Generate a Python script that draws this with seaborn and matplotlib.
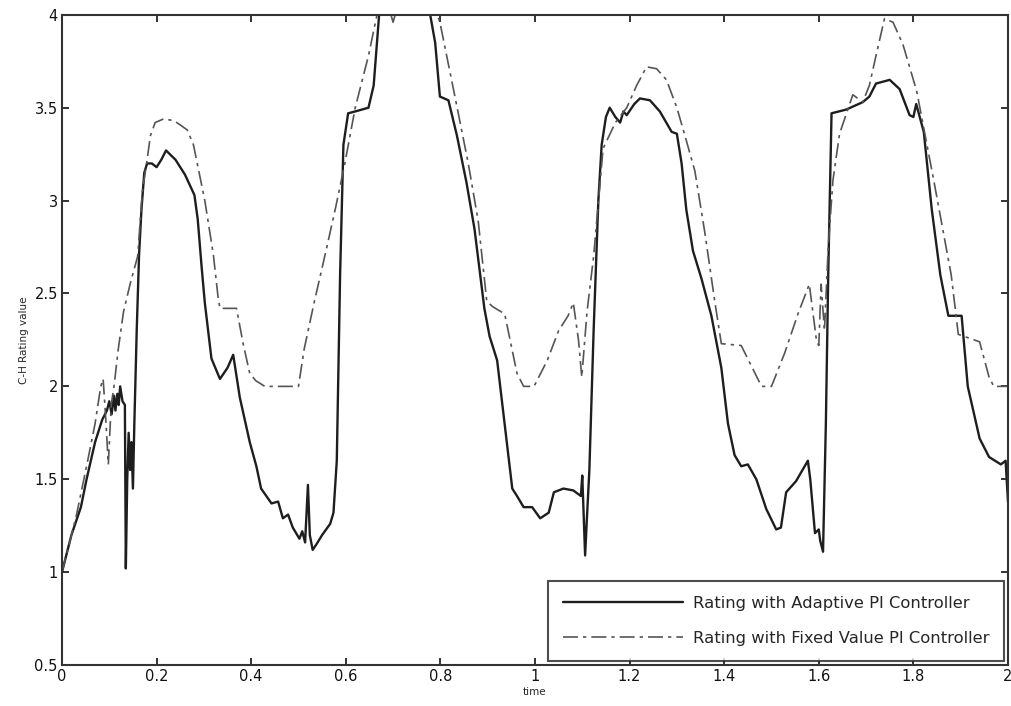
import numpy as np
import pandas as pd
import matplotlib
matplotlib.use("Agg")
import matplotlib.pyplot as plt
import seaborn as sns

# time / value pairs
t_adaptive = [0, 0.02, 0.04, 0.052, 0.07, 0.085, 0.095, 0.1, 0.105, 0.11,
              0.113, 0.117, 0.12, 0.123, 0.128, 0.133, 0.135, 0.138, 0.141, 0.144,
              0.147, 0.15, 0.153, 0.158, 0.163, 0.168, 0.174, 0.18, 0.19, 0.2,
              0.21, 0.22, 0.24, 0.26, 0.28, 0.287, 0.295, 0.302, 0.316, 0.334,
              0.35, 0.362, 0.376, 0.397, 0.411, 0.421, 0.432, 0.443, 0.457, 0.467,
              0.478, 0.488, 0.502, 0.508, 0.514, 0.52, 0.524, 0.53, 0.538, 0.55,
              0.567, 0.574, 0.581, 0.588, 0.595, 0.605, 0.62, 0.648, 0.659, 0.666,
              0.672, 0.7, 0.74, 0.775, 0.789, 0.799, 0.817, 0.835, 0.855, 0.872,
              0.893, 0.904, 0.92, 0.938, 0.952, 0.962, 0.976, 0.994, 1.011, 1.029,
              1.04, 1.06, 1.081, 1.097, 1.1, 1.103, 1.106, 1.11, 1.115, 1.124,
              1.134, 1.141, 1.15, 1.158, 1.17, 1.18, 1.187, 1.194, 1.21, 1.222,
              1.243, 1.264, 1.289, 1.3, 1.31, 1.32, 1.334, 1.352, 1.373, 1.394,
              1.408, 1.422, 1.436, 1.45, 1.468, 1.489, 1.51, 1.52, 1.531, 1.552,
              1.577, 1.582, 1.592, 1.6, 1.603, 1.609, 1.615, 1.62, 1.627, 1.658,
              1.693, 1.707, 1.721, 1.75, 1.771, 1.792, 1.8, 1.806, 1.822, 1.839,
              1.857, 1.874, 1.902, 1.915, 1.94, 1.96, 1.985, 1.995, 2.0]
v_adaptive = [1.0, 1.2, 1.35, 1.5, 1.7, 1.82, 1.87, 1.92, 1.85, 1.95,
              1.87, 1.96, 1.9, 2.0, 1.92, 1.9, 1.02, 1.5, 1.75, 1.55,
              1.7, 1.45, 1.8, 2.3, 2.71, 2.95, 3.15, 3.2, 3.2, 3.18,
              3.22, 3.27, 3.22, 3.14, 3.03, 2.9, 2.65, 2.45, 2.15, 2.04,
              2.1, 2.17, 1.94, 1.7, 1.57, 1.45, 1.41, 1.37, 1.38, 1.29,
              1.31, 1.24, 1.18, 1.22, 1.16, 1.47, 1.2, 1.12, 1.15, 1.2,
              1.26, 1.32, 1.6, 2.6, 3.3, 3.47, 3.48, 3.5, 3.62, 3.85,
              4.05, 4.25, 4.3, 4.05, 3.85, 3.56, 3.54, 3.35, 3.1, 2.85,
              2.42, 2.27, 2.14, 1.75, 1.45, 1.41, 1.35, 1.35, 1.29, 1.32,
              1.43, 1.45, 1.44, 1.41, 1.52, 1.3, 1.09, 1.3, 1.55, 2.3,
              3.0, 3.3, 3.45, 3.5, 3.45, 3.42, 3.48, 3.46, 3.52, 3.55,
              3.54, 3.48, 3.37, 3.36, 3.2, 2.95, 2.73, 2.58, 2.38, 2.1,
              1.8, 1.63, 1.57, 1.58, 1.5, 1.34, 1.23, 1.24, 1.43, 1.49,
              1.6, 1.5, 1.21, 1.23, 1.17, 1.11, 1.8, 2.6, 3.47, 3.49,
              3.53, 3.56, 3.63, 3.65, 3.6, 3.46, 3.45, 3.52, 3.37, 2.95,
              2.6, 2.38, 2.38, 2.0, 1.72, 1.62, 1.58, 1.6, 1.38]

t_fixed = [0, 0.03, 0.052, 0.07, 0.082, 0.087, 0.092, 0.098, 0.104, 0.11,
           0.119, 0.13, 0.144, 0.16, 0.17, 0.18, 0.187, 0.197, 0.215, 0.237,
           0.254, 0.265, 0.278, 0.302, 0.32, 0.33, 0.334, 0.369, 0.383, 0.397,
           0.41, 0.429, 0.5, 0.512, 0.533, 0.56, 0.58, 0.598, 0.62, 0.648,
           0.666, 0.69, 0.7, 0.71, 0.78, 0.799, 0.83, 0.859, 0.88, 0.898,
           0.91, 0.936, 0.962, 0.976, 0.998, 1.026, 1.05, 1.07, 1.081, 1.092,
           1.099, 1.11, 1.124, 1.144, 1.17, 1.194, 1.215, 1.236, 1.257, 1.278,
           1.3, 1.317, 1.338, 1.359, 1.38, 1.394, 1.436, 1.479, 1.5, 1.528,
           1.556, 1.58, 1.595, 1.6, 1.605, 1.612, 1.62, 1.63, 1.644, 1.672,
           1.693, 1.707, 1.721, 1.739, 1.757, 1.778, 1.807, 1.843, 1.88, 1.895,
           1.94, 1.96, 1.97, 2.0]
v_fixed = [1.0, 1.3, 1.57, 1.8, 2.0, 2.04, 1.85, 1.58, 1.9, 2.0,
           2.2, 2.4, 2.55, 2.7, 3.05, 3.22, 3.35, 3.42, 3.44, 3.43,
           3.4, 3.38, 3.3, 3.0, 2.71, 2.48, 2.42, 2.42, 2.23, 2.07,
           2.03, 2.0, 2.0, 2.2, 2.45, 2.75, 2.98, 3.2, 3.5, 3.78,
           4.0, 4.05, 3.96, 4.05, 4.1, 3.96, 3.57, 3.2, 2.89, 2.46,
           2.43, 2.39, 2.07, 2.0, 2.0, 2.14, 2.3, 2.38, 2.45, 2.25,
           2.05, 2.4, 2.7, 3.28, 3.42, 3.5, 3.62, 3.72, 3.71, 3.65,
           3.5, 3.35, 3.16, 2.83, 2.46, 2.23, 2.22, 2.0, 2.0, 2.18,
           2.39, 2.55, 2.25, 2.22, 2.55, 2.3, 2.75, 3.11, 3.36, 3.57,
           3.53, 3.62, 3.78, 3.98, 3.96, 3.84, 3.59, 3.11, 2.6, 2.28,
           2.24, 2.05, 2.0, 2.0]

labels = ["Rating with Adaptive PI Controller", "Rating with Fixed Value PI Controller"]
x_ticks = [0, 0.2, 0.4, 0.6, 0.8, 1, 1.2, 1.4, 1.6, 1.8, 2]
x_tick_labels = ["0", "0.2", "0.4", "0.6", "0.8", "1", "1.2", "1.4", "1.6", "1.8", "2"]
y_ticks = [0.5, 1, 1.5, 2, 2.5, 3, 3.5, 4]
y_tick_labels = ["0.5", "1", "1.5", "2", "2.5", "3", "3.5", "4"]

sns.set_theme(style="ticks")
plt.rcParams["font.family"] = ["DejaVu Sans"]
plt.rcParams["xtick.direction"] = "in"
plt.rcParams["ytick.direction"] = "in"

fig = plt.figure(figsize=(10.11, 7.06), dpi=100)
ax = fig.add_axes([0.0613, 0.058, 0.9357, 0.921])

sns.lineplot(x=t_adaptive, y=v_adaptive, ax=ax, sort=False, estimator=None,
             color="#1e1e1e", linewidth=1.7, label=labels[0])
sns.lineplot(x=t_fixed, y=v_fixed, ax=ax, sort=False, estimator=None,
             color="#555555", linewidth=1.2, label=labels[1])
ax.lines[1].set_dashes([9, 3, 2, 3])

ax.set_xlim(0, 2)
ax.set_ylim(0.5, 4)
ax.set_xticks(x_ticks)
ax.set_xticklabels(x_tick_labels)
ax.set_yticks(y_ticks)
ax.set_yticklabels(y_tick_labels)
ax.tick_params(axis="both", which="both", top=True, right=True, length=5,
               width=1.2, labelsize=10.5, colors="#111111", pad=3)
for spine in ax.spines.values():
    spine.set_visible(True)
    spine.set_linewidth(1.5)
    spine.set_color("#333333")

ax.set_xlabel("time", fontsize=7.5, labelpad=2)
ax.set_ylabel("C-H Rating value", fontsize=7.5, labelpad=4)

leg = ax.legend(loc="lower right", fontsize=11.8, handlelength=7.3,
                frameon=True, fancybox=False, borderpad=0.9, labelspacing=1.25,
                borderaxespad=0.25, handletextpad=0.6)
leg.get_frame().set_edgecolor("#222222")
leg.get_frame().set_linewidth(1.5)

fig.savefig("out.png", dpi=100, facecolor="white")
